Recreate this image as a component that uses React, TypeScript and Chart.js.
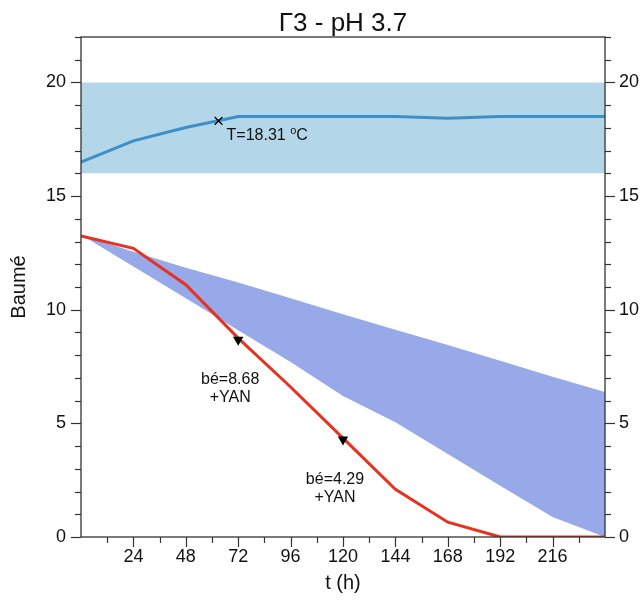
import React, { useEffect, useRef } from 'react';
import { Chart, registerables } from 'chart.js';
Chart.register(...registerables);

const chartTitle = 'Γ3 - pH 3.7';
const xTitle = 't (h)';
const yTitle = 'Baumé';
const hours = [0, 24, 48, 72, 96, 120, 144, 168, 192, 216, 240];
const temperature = [16.5, 17.43, 18.02, 18.5, 18.5, 18.5, 18.5, 18.43, 18.5, 18.5, 18.5];
const baume = [13.25, 12.7, 11.1, 8.75, 6.6, 4.35, 2.1, 0.65, 0, 0, 0];
const rangeUpper = [13.3, 12.55, 11.85, 11.2, 10.5, 9.8, 9.12, 8.45, 7.75, 7.05, 6.38];
const rangeLower = [13.3, 11.9, 10.5, 9.1, 7.7, 6.2, 5.05, 3.65, 2.25, 0.88, 0];
const tempBandLow = 16;
const tempBandHigh = 20;
const tempMarkerT = 63;
const tempMarkerValue = 18.31;
const yanT = [72, 120];
const yanBe = [8.68, 4.29];
const xTickValues = [24, 48, 72, 96, 120, 144, 168, 192, 216];
const yTickValues = [0, 5, 10, 15, 20];
const xMin = 0, xMax = 240, yMin = 0, yMax = 22;

const FONT = '"Liberation Sans", Arial, sans-serif';

const pts = (ys: number[]) => hours.map((h, i) => ({ x: h, y: ys[i] }));

const overlay = {
  id: 'overlay',
  afterDraw(chart: any) {
    const { ctx, chartArea, scales } = chart;
    const { left, right, top, bottom } = chartArea;
    const x = scales.x, y = scales.y;
    ctx.save();
    ctx.strokeStyle = '#333';
    ctx.lineWidth = 1.3;
    ctx.strokeRect(left, top, right - left, bottom - top);
    const line = (x1: number, y1: number, x2: number, y2: number) => {
      ctx.beginPath(); ctx.moveTo(x1, y1); ctx.lineTo(x2, y2); ctx.stroke();
    };
    ctx.lineWidth = 1.2;
    for (let v = yMin; v <= yMax; v++) {
      const py = Math.round(y.getPixelForValue(v)) + 0.5;
      const len = v % 5 === 0 ? 10 : 6;
      line(left - len, py, left, py);
      line(right, py, right + len, py);
    }
    for (let v = 12; v < xMax; v += 12) {
      const px = Math.round(x.getPixelForValue(v)) + 0.5;
      const len = v % 24 === 0 ? 10 : 6;
      line(px, bottom, px, bottom + len);
    }
    ctx.fillStyle = '#111';
    // title
    ctx.font = `26px ${FONT}`;
    ctx.textAlign = 'center';
    ctx.textBaseline = 'alphabetic';
    ctx.fillText(chartTitle, (left + right) / 2, 31);
    // axis titles
    ctx.font = `20px ${FONT}`;
    ctx.fillText(xTitle, (left + right) / 2, 589);
    ctx.save();
    ctx.translate(25, (top + bottom) / 2);
    ctx.rotate(-Math.PI / 2);
    ctx.fillText(yTitle, 0, 0);
    ctx.restore();
    // temperature label
    const tx = x.getPixelForValue(tempMarkerT) + 8;
    const ty = y.getPixelForValue(tempMarkerValue) + 19;
    ctx.textAlign = 'left';
    ctx.font = `16px ${FONT}`;
    const s1 = `T=${tempMarkerValue.toFixed(2)} `;
    ctx.fillText(s1, tx, ty);
    const w1 = ctx.measureText(s1).width;
    ctx.font = `11px ${FONT}`;
    ctx.fillText('o', tx + w1, ty - 6);
    const w2 = ctx.measureText('o').width;
    ctx.font = `16px ${FONT}`;
    ctx.fillText('C', tx + w1 + w2, ty);
    // YAN labels
    ctx.textAlign = 'center';
    yanT.forEach((t, i) => {
      const px = x.getPixelForValue(t) - 8;
      const py = y.getPixelForValue(yanBe[i]);
      ctx.fillText(`bé=${yanBe[i].toFixed(2)}`, px, py + 44);
      ctx.fillText('+YAN', px, py + 62);
    });
    ctx.restore();
  },
};

export default function App() {
  const ref = useRef<HTMLCanvasElement>(null);
  useEffect(() => {
    if (!ref.current) return;
    const chart = new Chart(ref.current, {
      type: 'line',
      data: {
        datasets: [
          {
            label: 'YAN',
            data: yanT.map((t, i) => ({ x: t, y: yanBe[i] })),
            showLine: false,
            pointStyle: 'triangle',
            rotation: 180,
            pointRadius: 6,
            pointBackgroundColor: '#000',
            pointBorderColor: '#000',
            pointBorderWidth: 0,
          } as any,
          {
            label: 'Tmark',
            data: [{ x: tempMarkerT, y: tempMarkerValue }],
            showLine: false,
            pointStyle: 'crossRot',
            pointRadius: 5.5,
            pointBorderColor: '#000',
            pointBorderWidth: 1.2,
          } as any,
          {
            label: 'Baumé',
            data: pts(baume),
            borderColor: '#e8321f',
            borderWidth: 3,
            pointRadius: 0,
            fill: false,
            tension: 0,
          },
          {
            label: 'T',
            data: pts(temperature),
            borderColor: '#3e8ec8',
            borderWidth: 3,
            pointRadius: 0,
            fill: false,
          },
          {
            label: 'rangeUpper',
            data: pts(rangeUpper),
            borderWidth: 0,
            borderColor: 'rgba(0,0,0,0)',
            backgroundColor: '#97a9e8',
            pointRadius: 0,
            fill: '+1',
          },
          {
            label: 'rangeLower',
            data: pts(rangeLower),
            borderWidth: 0,
            borderColor: 'rgba(0,0,0,0)',
            pointRadius: 0,
            fill: false,
          },
          {
            label: 'bandHigh',
            data: [{ x: xMin, y: tempBandHigh }, { x: xMax, y: tempBandHigh }],
            borderWidth: 0,
            borderColor: 'rgba(0,0,0,0)',
            backgroundColor: '#b3d7e9',
            pointRadius: 0,
            fill: '+1',
          },
          {
            label: 'bandLow',
            data: [{ x: xMin, y: tempBandLow }, { x: xMax, y: tempBandLow }],
            borderWidth: 0,
            borderColor: 'rgba(0,0,0,0)',
            pointRadius: 0,
            fill: false,
          },
        ],
      },
      options: {
        responsive: false,
        animation: false,
        layout: { padding: { top: 37, left: 0, right: 0, bottom: 0 } },
        plugins: { legend: { display: false }, title: { display: false }, tooltip: { enabled: false } },
        scales: {
          x: {
            type: 'linear',
            min: xMin,
            max: xMax,
            grid: { display: false, drawTicks: false },
            border: { display: false },
            afterBuildTicks: (s: any) => { s.ticks = xTickValues.map((v) => ({ value: v })); },
            afterFit: (s: any) => { s.height = 66; },
            ticks: { autoSkip: false, maxRotation: 0, padding: 9, color: '#111', font: { size: 18, family: FONT } },
          },
          y: {
            type: 'linear',
            position: 'left',
            min: yMin,
            max: yMax,
            grid: { display: false, drawTicks: false },
            border: { display: false },
            afterBuildTicks: (s: any) => { s.ticks = yTickValues.map((v) => ({ value: v })); },
            afterFit: (s: any) => { s.width = 81; },
            ticks: { padding: 15, color: '#111', font: { size: 18, family: FONT } },
          },
          y2: {
            type: 'linear',
            position: 'right',
            min: yMin,
            max: yMax,
            grid: { display: false, drawTicks: false },
            border: { display: false },
            afterBuildTicks: (s: any) => { s.ticks = yTickValues.map((v) => ({ value: v })); },
            afterFit: (s: any) => { s.width = 39; },
            ticks: { padding: 14, color: '#111', font: { size: 18, family: FONT } },
          },
        },
      } as any,
      plugins: [overlay],
    });
    return () => chart.destroy();
  }, []);
  return (
    <div style={{ position: 'absolute', left: 0, top: 0, width: 644, height: 603, background: '#fff' }}>
      <canvas ref={ref} width={644} height={603} />
    </div>
  );
}
